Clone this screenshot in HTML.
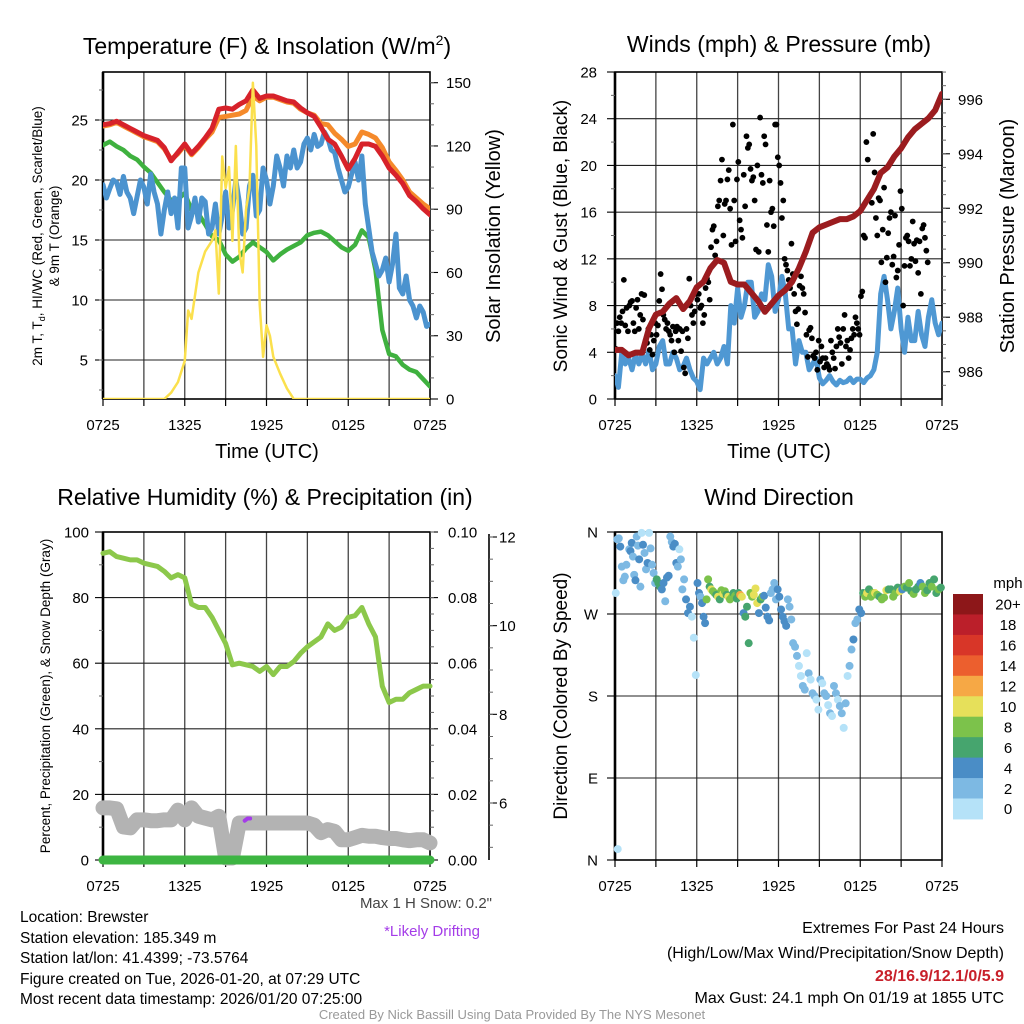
<!DOCTYPE html>
<html><head><meta charset="utf-8"><title>Mesonet Station Meteogram</title>
<style>
html,body{margin:0;padding:0;background:#fff;}
svg{display:block;font-family:"Liberation Sans",Arial,sans-serif;}
</style></head>
<body>
<svg id="chart" xmlns="http://www.w3.org/2000/svg" width="1024" height="1024" viewBox="0 0 1024 1024">
<rect x="0" y="0" width="1024" height="1024" fill="#fff"/>
<g id="layer"></g>
<text x="267" y="54" font-size="23" text-anchor="middle">Temperature (F) &amp; Insolation (W/m<tspan dy="-9" font-size="14">2</tspan><tspan dy="9">)</tspan></text>
<text x="779" y="52" font-size="23" text-anchor="middle">Winds (mph) &amp; Pressure (mb)</text>
<text x="265" y="505" font-size="23" text-anchor="middle">Relative Humidity (%) &amp; Precipitation (in)</text>
<text x="779" y="505" font-size="23" text-anchor="middle">Wind Direction</text>
<text x="267" y="458" font-size="20" text-anchor="middle">Time (UTC)</text>
<text x="779" y="458" font-size="20" text-anchor="middle">Time (UTC)</text>
<text transform="translate(42,236) rotate(-90)" font-size="13.5" text-anchor="middle">2m T, T<tspan dy="3" font-size="9">d</tspan><tspan dy="-3">, HI/WC (Red, Green, Scarlet/Blue)</tspan></text>
<text transform="translate(59,236) rotate(-90)" font-size="13.5" text-anchor="middle">&amp; 9m T (Orange)</text>
<text transform="translate(500,236) rotate(-90)" font-size="20" text-anchor="middle">Solar Insolation (Yellow)</text>
<text transform="translate(567,236) rotate(-90)" font-size="19" text-anchor="middle">Sonic Wind &amp; Gust (Blue, Black)</text>
<text transform="translate(1014,236) rotate(-90)" font-size="20" text-anchor="middle">Station Pressure (Maroon)</text>
<text transform="translate(50,696) rotate(-90)" font-size="13.5" text-anchor="middle">Percent, Precipitation (Green), &amp; Snow Depth (Gray)</text>
<text transform="translate(567,696) rotate(-90)" font-size="19" text-anchor="middle">Direction (Colored By Speed)</text>
<text x="1008" y="588" font-size="15" text-anchor="middle">mph</text>
<text x="492" y="908" font-size="15" fill="#444" text-anchor="end">Max 1 H Snow: 0.2"</text>
<text x="432" y="936" font-size="15" fill="#a43ce8" text-anchor="middle">*Likely Drifting</text>
<g font-size="15.5">
<text x="20" y="922">Location: Brewster</text>
<text x="20" y="943">Station elevation: 185.349 m</text>
<text x="20" y="963">Station lat/lon: 41.4399; -73.5764</text>
<text x="20" y="984">Figure created on Tue, 2026-01-20, at 07:29 UTC</text>
<text x="20" y="1004">Most recent data timestamp: 2026/01/20 07:25:00</text>
</g>
<g font-size="16" text-anchor="end">
<text x="1004" y="933">Extremes For Past 24 Hours</text>
<text x="1004" y="958">(High/Low/Max Wind/Precipitation/Snow Depth)</text>
<text x="1004" y="981" font-weight="bold" fill="#c8202a">28/16.9/12.1/0/5.9</text>
<text x="1004" y="1003">Max Gust: 24.1 mph On 01/19 at 1855 UTC</text>
</g>
<text x="512" y="1019" font-size="13" fill="#999" text-anchor="middle">Created By Nick Bassill Using Data Provided By The NYS Mesonet</text>
</svg>
<script>
// ---------- DATA ----------
const halfHours = [0,0.5,1,1.5,2,2.5,3,3.5,4,4.5,5,5.5,6,6.5,7,7.5,8,8.5,9,9.5,10,10.5,11,11.5,12,12.5,13,13.5,14,14.5,15,15.5,16,16.5,17,17.5,18,18.5,19,19.5,20,20.5,21,21.5,22,22.5,23,23.5,24];
const quarterHours = Array.from({length:97}, (_, i) => i/4);
const xTickLabels = ["0725","1325","1925","0125","0725"];
const tempRed = [24.6,24.7,24.9,24.6,24.3,24.0,23.7,23.5,23.3,22.7,21.6,22.3,23.0,22.2,22.8,23.5,24.3,25.9,26.0,25.9,26.3,26.6,27.5,26.8,27.0,27.0,26.8,26.6,26.5,26.0,25.6,25.3,24.4,23.4,23.0,22.0,20.9,21.8,23.0,23.0,22.8,22.0,21.0,20.4,19.7,18.7,18.2,17.6,17.1];
const temp9m = [24.5,24.6,24.8,24.5,24.2,23.9,23.6,23.4,23.2,22.6,21.7,22.2,22.9,22.1,22.7,23.4,24.0,25.2,25.3,25.4,25.5,25.8,27.0,26.6,26.9,26.9,26.7,26.5,26.4,25.9,25.6,25.4,24.7,24.6,23.9,23.4,22.8,23.0,24.0,23.8,23.5,22.7,21.5,20.8,20.0,19.0,18.5,18.0,17.6];
const dewGreen = [22.9,23.2,22.8,22.5,22.0,21.7,21.1,20.6,19.8,19.0,18.3,18.4,18.9,17.5,17.2,16.3,15.3,15.0,13.8,13.2,13.6,14.3,14.8,14.4,14.0,13.3,13.8,14.2,14.5,14.8,15.4,15.6,15.7,15.4,14.9,14.4,14.1,14.6,15.8,15.2,12.5,7.5,5.5,5.3,4.6,4.2,4.0,3.4,2.8];
const windChill = [19.6,18.5,19.3,20.0, 19.8,18.8,20.3,19.0, 18.5,17.2,18.6,20.0, 19.4,18.0,20.5,19.0, 18.0,15.5,17.5,19.0, 17.2,18.5,16.0,21.0, 21.0,16.0,17.0,18.5, 16.5,18.5,18.2,15.5, 16.0,18.0,15.5,17.0, 19.0,16.0,17.5,20.0, 18.2,15.5,16.0,19.5, 20.4,17.0,17.5,21.0, 20.0,18.0,19.5,22.0, 21.0,19.5,22.0,21.0, 22.5,21.0,21.5,23.0, 23.5,22.5,23.8,22.8, 23.0,24.0,23.5,22.5, 22.3,21.0,20.0,19.0, 19.4,20.5,21.5,20.0, 22.0,18.0,16.0,14.0, 13.0,12.0,12.5,13.5, 11.5,13.0,15.5,11.0, 10.5,12.0,10.0,9.5, 8.5,9.5,9.0,7.8, 8.0];
const solarTimes = [0,4.5,5,5.5,6,6.25,6.5,7,7.5,8,8.25,8.5,8.75,9,9.25,9.5,9.75,10,10.25,10.5,10.75,11,11.25,11.5,11.75,12,12.25,12.5,13,13.5,14,24];
const solarVals = [0,0,3,8,18,42,38,60,70,75,80,50,115,100,110,75,120,70,60,90,100,150,120,45,20,35,30,20,12,5,0,0];
const windSpeed = [2.0,1.0,4.0,3.0, 3.5,2.5,3.8,3.0, 3.8,3.0,4.2,2.5, 3.0,4.5,5.0,3.0, 3.0,4.0,3.5,2.5, 2.8,3.5,2.5,1.8, 1.5,0.8,3.5,3.0, 3.5,4.0,3.0,3.5, 4.5,3.0,8.0,6.5, 9.5,7.0,8.0,10.0, 10.0,7.0,7.5,9.0, 8.5,11.5,10.5,7.5, 8.5,10.5,9.0,6.0, 6.0,3.0,5.0,4.0, 4.0,2.5,3.0,3.5, 1.8,1.3,1.6,2.0, 1.5,1.2,1.6,1.4, 1.5,1.8,1.4,1.7, 1.7,1.4,1.8,2.0, 2.5,4.0,9.0,10.5, 8.5,6.0,7.5,9.5, 6.0,4.0,7.0,5.0, 5.0,7.5,5.5,4.5, 7.0,8.5,6.5,5.5, 6.5];
const pressure = [986.8,986.8,986.6,986.7,986.7,987.6,988.1,988.2,988.5,988.7,988.3,988.6,989.1,989.3,989.8,990.1,990.0,989.3,989.2,989.2,988.9,988.6,988.2,988.5,988.8,989.0,989.3,989.8,990.4,991.1,991.3,991.4,991.5,991.6,991.6,991.7,991.9,992.3,992.7,993.3,993.5,993.9,994.2,994.6,994.9,995.1,995.3,995.6,996.2];
const gustHours = [0,1,2,3,4,5,6,7,8,9,10,11,12,13,14,15,16,17,18,19,20,21,22];
const gustVals = [
 [4.3,6.5,5.8,7.0,6.5,7.5,10.2,6.3,7.8,5.8],[8.0,8.3,8.4,6.5,5.8,7.8,8.5,6.0,7.2,9.0],
 [6.8,8.9,5.0,4.8,6.0,4.2,5.5,3.8,5.0,6.5],[5.5,6.3,8.4,10.7,9.4,7.2,6.8,6.0,6.5,5.8],
 [5.5,5.0,6.2,4.0,5.8,6.2,5.0,6.0,4.1,5.8],[2.7,2.2,6.0,5.2,10.3,8.0,7.2,6.5,7.5,9.0],
 [8.5,9.0,7.8,8.0,6.5,7.2,9.5,10.3,10.0,8.5],[13.0,14.5,14.8,12.3,13.5,16.5,17.0,18.7,20.5,14.0],
 [16.7,17.0,18.8,19.6,16.3,13.2,23.5,17.0,13.5,18.8],[20.3,15.3,14.5,13.8,19.2,16.5,22.5,21.5,21.8,19.7],
 [18.7,19.0,17.0,12.8,20.0,12.6,24.1,19.2,18.5,22.5],[21.8,14.9,12.6,18.7,16.0,16.3,14.8,23.5,23.5,20.7],
 [20.0,18.5,15.5,17.0,12.0,11.5,11.0,10.2,9.5,13.3],[10.7,9.0,7.5,6.4,7.7,9.7,10.5,9.5,9.0,7.4],
 [5.5,3.6,5.9,6.1,5.2,3.7,3.5,4.0,2.5,5.0],[3.2,4.5,3.5,2.7,3.5,3.0,2.8,2.5,5.0,4.0],
 [3.5,2.6,4.5,6.0,5.3,4.8,3.0,6.0,7.2,4.5],[5.0,3.5,4.2,5.2,6.0,5.5,7.0,6.5,6.0,5.5],
 [8.8,9.2,14.0,13.8,22.0,20.5,17.3,17.5,16.8,22.7],[19.4,15.5,14.0,17.2,17.0,11.7,14.5,18.1,10.0,12.1],
 [14.2,15.5,16.0,11.5,12.2,15.7,10.4,11.0,13.2,17.8],[16.3,8.0,11.4,13.8,14.0,13.5,11.4,12.0,15.2,13.3],
 [11.8,13.6,10.8,13.5,9.0,14.6,14.9,13.8,12.7,11.7]];
const relHum = [93.5,94,92.5,92,91.5,91.5,90.5,90,89.5,88,86,87,86,78,77,77,74,70,66,59.5,60,59.5,59,57.5,59,56.5,59,59,60.5,63,65,66.5,68,72,70,71,74,74.5,77,72,68,53,48,49,49,51,52,53,53];
const snowDepth = [5.89,5.89,5.87,5.46,5.44,5.62,5.62,5.6,5.6,5.62,5.62,5.84,5.62,5.89,5.7,5.66,5.62,5.7,4.76,4.76,5.55,5.55,5.55,5.55,5.55,5.55,5.55,5.55,5.55,5.55,5.55,5.5,5.33,5.4,5.36,5.17,5.17,5.22,5.27,5.25,5.25,5.22,5.2,5.2,5.17,5.15,5.17,5.17,5.1];
const precip = [0,0,0,0,0,0,0,0,0,0,0,0,0,0,0,0,0,0,0,0,0,0,0,0,0,0,0,0,0,0,0,0,0,0,0,0,0,0,0,0,0,0,0,0,0,0,0,0,0];
const driftHours = [10.4,10.6,10.8];
const driftVals = [5.6,5.65,5.65];
const dirHours = [0,1,2,3,4,5,6,7,8,9,10,11,12,13,14,15,16,17,18,19,20,21,22,23];
const dirVals = [
 [293,352,353,344,322,307,311,324,12],[341,339,348,333,313,307,355,345,330,300,359],
 [346,337,319,326,359,342,324,315,304],[308,304,300,297,304,284,310,312],
 [355,349,344,347,326,322,341,330,297],[308,286,271,278,267,244,203],
 [304,293,289,282,267,260,286,308,300],[297,295,293,291,289,286,296,292],
 [295,291,289,286,288,293,290,287],[293,291,289,271,267,278,238,293],
 [289,291,298,282,271,286,289,290],[277,267,263,293,297,304,286,297],
 [289,275,267,262,257,286,278,264],[238,234,224,213,202,191,187],
 [227,205,198,183,180,176,165],[198,194,183,180,170,161,158],
 [191,183,176,169,161,145,172],[202,213,231,242,260,264,275],
 [271,293,289,293,297,289,293],[293,291,289,286,288,296],
 [297,297,289,293,299,295],[297,300,299,304,295,292],
 [297,300,304,300,293,296],[304,300,308,293,297,299]];
const dirSpeeds = [
 [1,3,3,4,2,3,2,3,0],[3,4,4,2,3,4,3,2,4,2,1],
 [4,2,3,4,1,2,3,2,2],[7,7,6,4,4,2,5,4],
 [2,3,5,5,4,3,1,2,3],[2,4,5,5,1,1,1],
 [4,5,3,5,4,5,8,9,7],[10,8,9,7,10,6,8,11],
 [9,7,10,8,9,7,8,6],[7,12,10,4,7,6,7,8],
 [9,10,10,11,5,7,8,4],[4,5,5,3,2,2,3,5],
 [4,5,4,4,5,3,3,3],[3,2,3,1,1,2,2],
 [1,2,1,2,3,1,1],[2,1,3,2,1,2,0],
 [3,2,1,2,2,1,3],[1,2,3,4,2,3,5],
 [4,7,8,10,7,9,8],[10,8,7,9,8,10],
 [7,6,8,9,7,10],[5,8,7,9,6,8],
 [6,7,5,8,9,6],[7,8,6,7,9,7]];
const speedLevels = ["0","2","4","6","8","10","12","14","16","18","20+"];
const speedColors = ["#b5e2f8","#7db9e3","#4a8dc6","#46a56e","#7cc24b","#e6e05a","#f6a845","#ec5f2e","#d83628","#bb1f2a","#8d1719"];

// ---------- HELPERS ----------
const NS = "http://www.w3.org/2000/svg";
const layer = document.getElementById('layer');
function mk(tag, attrs, parent){
  const el = document.createElementNS(NS, tag);
  for (const k in attrs) el.setAttribute(k, attrs[k]);
  (parent || layer).appendChild(el);
  return el;
}
function lin(d0,d1,r0,r1){ return v => r0 + (v-d0)*(r1-r0)/(d1-d0); }
function pathFrom(xs, ys, fx, fy){
  let d = "";
  for (let i=0;i<xs.length;i++){ d += (i? "L":"M") + fx(xs[i]).toFixed(2) + "," + fy(ys[i]).toFixed(2); }
  return d;
}
function drawLine(xs, ys, fx, fy, color, w, name){
  const el = mk('path', {d: pathFrom(xs, ys, fx, fy), fill:'none', stroke:color, 'stroke-width':w, 'stroke-linejoin':'round', 'stroke-linecap':'round'});
  
  
  return el;
}
function frame(px0, px1, py0, py1, name, yTicks, fy, yMinor, xfun){
  const g = mk('g', {});
  
  
  for (let h=3; h<24; h+=3){
    const gl = mk('line', {x1:xfun(h), x2:xfun(h), y1:py0, y2:py1, stroke:'#444', 'stroke-width':1.3}, g);
    
    
  }
  for (const t of yTicks){
    const y = fy(t);
    if (y > py0+1 && y < py1-1){
      const gl = mk('line', {x1:px0, x2:px1, y1:y, y2:y, stroke:'#222', 'stroke-width':1.1}, g);
      
      
    }
  }
  for (let h=0; h<=24; h+=3){
    const tk = mk('line', {x1:xfun(h), x2:xfun(h), y1:py1, y2:py1+7, stroke:'#000', 'stroke-width':1.2}, g);
    
    
  }
  return g;
}
function yAxis(g, ticks, labels, minors, fy, x, dir, labX, anchor, name, py0, py1){
  for (let i=0;i<ticks.length;i++){
    const y = fy(ticks[i]);
    const tk = mk('line', {x1:x, x2:x+dir*8, y1:y, y2:y, stroke:'#000', 'stroke-width':1.1}, g);
    
    
    const tl = mk('text', {x:labX, y:y+5.5, 'font-size':15, 'text-anchor':anchor}, g);
    tl.textContent = labels[i];
    
    
  }
  for (const m of minors){
    const y = fy(m);
    if (y < py0-0.5 || y > py1+0.5) continue;
    const tk = mk('line', {x1:x, x2:x+dir*4, y1:y, y2:y, stroke:'#666', 'stroke-width':1}, g);
    
    
  }
}
function xLabels(g, xfun, y){
  for (let i=0;i<xTickLabels.length;i++){
    const t = mk('text', {x:xfun(i*6), y:y, 'font-size':15, 'text-anchor':'middle'}, g);
    t.textContent = xTickLabels[i];
    
    
  }
}
function border(g, px0, px1, py0, py1){
  const r = mk('rect', {x:px0, y:py0, width:px1-px0, height:py1-py0, fill:'none', stroke:'#000', 'stroke-width':1.6}, g);
  
  
  const l = mk('line', {x1:px0, x2:px0, y1:py0, y2:py1, stroke:'#000', 'stroke-width':2.6}, g);
  
  
}
function range(a,b,s){ const r=[]; for(let v=a; v<=b+1e-9; v+=s) r.push(+v.toFixed(4)); return r; }

// ---------- PANEL 1 ----------
(function(){
  const px0=103, px1=430, py0=72, py1=399;
  const fx = lin(0,24,px0,px1);
  const fy = lin(5,25,360,120);
  const fs = lin(0,150,399,82.7);
  const g = frame(px0,px1,py0,py1,'temperature-panel',[5,10,15,20,25],fy,[],fx);
  const clip = mk('clipPath', {id:'c1'});
  mk('rect', {x:px0, y:py0, width:px1-px0, height:py1-py0}, clip);
  const data = mk('g', {'clip-path':'url(#c1)'});
  
  
  const dl = (xs, ys, c, w, n) => { const e = drawLine(xs, ys, fx, fy, c, w, n); data.appendChild(e); };
  dl(halfHours, dewGreen, '#3fb13f', 4.5, 'dewpoint-line');
  dl(quarterHours, windChill, '#4b93cf', 5, 'wind-chill-line');
  dl(halfHours, temp9m, '#f58a2b', 5, 'temp-9m-line');
  dl(halfHours, tempRed, '#d7222a', 5, 'temp-2m-line');
  const ys = drawLine(solarTimes, solarVals, fx, fs, '#fbe04d', 2.5, 'solar-insolation-line');
  data.appendChild(ys);
  border(g, px0, px1, py0, py1);
  yAxis(g, [5,10,15,20,25], ['5','10','15','20','25'], range(2.5,27.5,2.5), fy, px0, -1, 88, 'end', 'temperature-y', py0, py1);
  yAxis(g, [0,30,60,90,120,150], ['0','30','60','90','120','150'], range(10,150,10), fs, px1, 1, 446, 'start', 'solar-y', py0, py1);
  xLabels(g, fx, 430);
})();

// ---------- PANEL 2 ----------
(function(){
  const px0=615, px1=942, py0=72, py1=399;
  const fx = lin(0,24,px0,px1);
  const fy = lin(0,28,399,72);
  const fp = lin(986,996,371.7,99.3);
  const g = frame(px0,px1,py0,py1,'wind-panel',[4,8,12,16,20,24],fy,[],fx);
  const clip = mk('clipPath', {id:'c2'});
  mk('rect', {x:px0, y:py0, width:px1-px0, height:py1-py0}, clip);
  const data = mk('g', {'clip-path':'url(#c2)'});
  
  
  const wl = drawLine(quarterHours, windSpeed, fx, fy, '#4f98d3', 5, 'sonic-wind-line');
  data.appendChild(wl);
  for (let i=0;i<gustHours.length;i++){
    const vals = gustVals[i];
    for (let j=0;j<vals.length;j++){
      const t = gustHours[i] + (j+0.5)/vals.length;
      const c = mk('circle', {cx:fx(t), cy:fy(vals[j]), r:2.9, fill:'#000'}, data);
      
      
    }
  }
  const pl = drawLine(halfHours, pressure, fx, fp, '#9b1c1f', 6, 'pressure-line');
  data.appendChild(pl);
  border(g, px0, px1, py0, py1);
  yAxis(g, [0,4,8,12,16,20,24,28], ['0','4','8','12','16','20','24','28'], range(2,26,4), fy, px0, -1, 597, 'end', 'wind-y', py0, py1);
  yAxis(g, [986,988,990,992,994,996], ['986','988','990','992','994','996'], range(985.5,997,0.5), fp, px1, 1, 958, 'start', 'pressure-y', py0, py1);
  xLabels(g, fx, 430);
})();

// ---------- PANEL 3 ----------
(function(){
  const px0=103, px1=430, py0=532, py1=860;
  const fx = lin(0,24,px0,px1);
  const fy = lin(0,100,860,532);
  const fpr = lin(0,0.1,860,532);
  const fsn = lin(6,12,803,537);
  const g = frame(px0,px1,py0,py1,'humidity-panel',[20,40,60,80],fy,[],fx);
  const clip = mk('clipPath', {id:'c3'});
  mk('rect', {x:px0-14, y:py0, width:px1-px0+28, height:py1-py0+12}, clip);
  const data = mk('g', {'clip-path':'url(#c3)'});
  
  
  const sl = drawLine(halfHours, snowDepth, fx, fsn, '#b3b3b3', 15, 'snow-depth-line');
  data.appendChild(sl);
  const dr = drawLine(driftHours, driftVals, fx, fsn, '#a43ce8', 4, 'drifting-snow-mark');
  data.appendChild(dr);
  const pr = drawLine(halfHours, precip, fx, fpr, '#3db542', 9, 'precipitation-line');
  data.appendChild(pr);
  const rh = drawLine(halfHours, relHum, fx, fy, '#8cc84b', 5, 'relative-humidity-line');
  data.appendChild(rh);
  border(g, px0, px1, py0, py1);
  yAxis(g, [0,20,40,60,80,100], ['0','20','40','60','80','100'], range(10,90,20), fy, px0, -1, 89, 'end', 'humidity-y', py0, py1);
  yAxis(g, [0,0.02,0.04,0.06,0.08,0.1], ['0.00','0.02','0.04','0.06','0.08','0.10'], range(0.005,0.1,0.005), fpr, px1, 1, 448, 'start', 'precip-y', py0, py1);
  const sa = mk('line', {x1:489, x2:489, y1:534, y2:860, stroke:'#000', 'stroke-width':1.6}, g);
  
  
  yAxis(g, [6,8,10,12], ['6','8','10','12'], range(5,12,0.5), fsn, 489, 1, 499, 'start', 'snow-y', 534, 860);
  xLabels(g, fx, 891);
})();

// ---------- PANEL 4 ----------
(function(){
  const px0=615, px1=942, py0=532, py1=860;
  const fx = lin(0,24,px0,px1);
  const fy = lin(0,360,860,532);
  const g = frame(px0,px1,py0,py1,'direction-panel',[90,180,270],fy,[],fx);
  const data = mk('g', {});
  
  
  for (let i=0;i<dirHours.length;i++){
    const vals = dirVals[i], sp = dirSpeeds[i];
    for (let j=0;j<vals.length;j++){
      const t = dirHours[i] + (j+0.5)/vals.length;
      const lvl = Math.min(10, Math.max(0, Math.floor(sp[j]/2)));
      const c = mk('circle', {cx:fx(i===0&&j===8?0.2:t), cy:fy(vals[j]), r:4, fill:speedColors[lvl]}, data);
      
      
    }
  }
  border(g, px0, px1, py0, py1);
  yAxis(g, [0,90,180,270,360], ['N','E','S','W','N'], [], fy, px0, -1, 598, 'end', 'direction-y', py0, py1);
  xLabels(g, fx, 891);
  const cb = mk('g', {});
  
  
  const top = 594, bh = 20.45;
  for (let k=0;k<speedLevels.length;k++){
    const idx = speedLevels.length-1-k;
    const r = mk('rect', {x:953, y:top+k*bh, width:30, height:bh+0.5, fill:speedColors[idx]}, cb);
    
    
    const t = mk('text', {x:1008, y:top+k*bh+bh/2+5.5, 'font-size':15, 'text-anchor':'middle'}, cb);
    t.textContent = speedLevels[idx];
    
    
  }
})();
</script>
</body></html>
